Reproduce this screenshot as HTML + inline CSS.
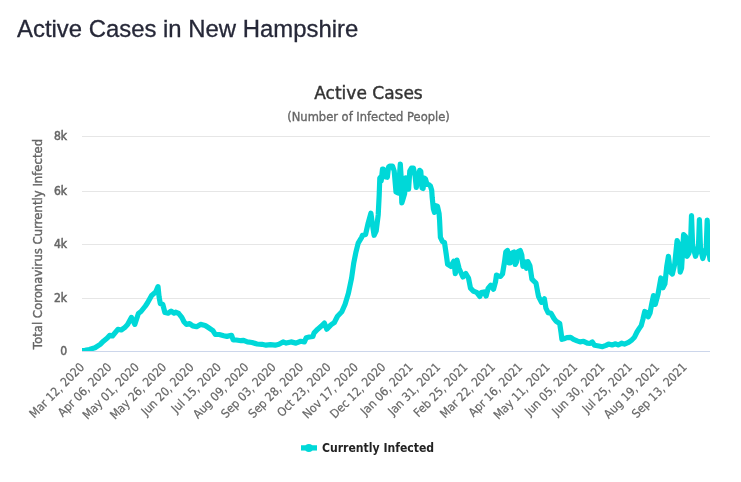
<!DOCTYPE html>
<html><head><meta charset="utf-8"><style>
html,body{margin:0;padding:0;background:#fff;}
body{width:741px;height:482px;overflow:hidden;position:relative;}
svg{position:absolute;left:0;top:0;}
</style></head><body>
<svg width="741" height="482" viewBox="0 0 741 482">
<defs><clipPath id="pc"><rect x="82" y="136" width="628" height="215"/></clipPath></defs>
<text x="17" y="36.8" font-family="'Liberation Sans', Arial, sans-serif" font-size="23.9" fill="#262838" stroke="#262838" stroke-width="0.3">Active Cases in New Hampshire</text>
<text x="368.5" y="99" text-anchor="middle" font-family="'DejaVu Sans', sans-serif" font-size="17" fill="#333333" stroke="#333333" stroke-width="0.4">Active Cases</text>
<text x="368.5" y="120.9" text-anchor="middle" font-family="'DejaVu Sans', sans-serif" font-size="11.5" fill="#666666" stroke="#666666" stroke-width="0.35">(Number of Infected People)</text>
<g stroke="#e6e6e6" stroke-width="1" fill="none">
<path d="M82 136.5 L710 136.5" />
<path d="M82 191.5 L710 191.5" />
<path d="M82 244.5 L710 244.5" />
<path d="M82 298.5 L710 298.5" />
</g>
<g font-family="'DejaVu Sans Condensed', 'DejaVu Sans', sans-serif" font-size="12" fill="#666666" stroke="#666666" stroke-width="0.5">
<text x="67" y="140.2" text-anchor="end">8k</text>
<text x="67" y="195.2" text-anchor="end">6k</text>
<text x="67" y="248.2" text-anchor="end">4k</text>
<text x="67" y="302.2" text-anchor="end">2k</text>
<text x="67" y="355.2" text-anchor="end">0</text>
</g>
<text transform="translate(42 244.0) rotate(-90)" text-anchor="middle" font-family="'DejaVu Sans', sans-serif" font-size="11.7" fill="#666666" stroke="#666666" stroke-width="0.4">Total Coronavirus Currently Infected</text>
<g font-family="'DejaVu Sans Condensed', 'DejaVu Sans', sans-serif" font-size="12" fill="#666666" stroke="#666666" stroke-width="0.2">
<text x="85.00" y="367.90" transform="rotate(-45 85.00 367.90)" text-anchor="end">Mar 12, 2020</text>
<text x="112.39" y="367.90" transform="rotate(-45 112.39 367.90)" text-anchor="end">Apr 06, 2020</text>
<text x="139.78" y="367.90" transform="rotate(-45 139.78 367.90)" text-anchor="end">May 01, 2020</text>
<text x="167.17" y="367.90" transform="rotate(-45 167.17 367.90)" text-anchor="end">May 26, 2020</text>
<text x="194.56" y="367.90" transform="rotate(-45 194.56 367.90)" text-anchor="end">Jun 20, 2020</text>
<text x="221.95" y="367.90" transform="rotate(-45 221.95 367.90)" text-anchor="end">Jul 15, 2020</text>
<text x="249.34" y="367.90" transform="rotate(-45 249.34 367.90)" text-anchor="end">Aug 09, 2020</text>
<text x="276.73" y="367.90" transform="rotate(-45 276.73 367.90)" text-anchor="end">Sep 03, 2020</text>
<text x="304.12" y="367.90" transform="rotate(-45 304.12 367.90)" text-anchor="end">Sep 28, 2020</text>
<text x="331.51" y="367.90" transform="rotate(-45 331.51 367.90)" text-anchor="end">Oct 23, 2020</text>
<text x="358.90" y="367.90" transform="rotate(-45 358.90 367.90)" text-anchor="end">Nov 17, 2020</text>
<text x="386.29" y="367.90" transform="rotate(-45 386.29 367.90)" text-anchor="end">Dec 12, 2020</text>
<text x="413.68" y="367.90" transform="rotate(-45 413.68 367.90)" text-anchor="end">Jan 06, 2021</text>
<text x="441.07" y="367.90" transform="rotate(-45 441.07 367.90)" text-anchor="end">Jan 31, 2021</text>
<text x="468.46" y="367.90" transform="rotate(-45 468.46 367.90)" text-anchor="end">Feb 25, 2021</text>
<text x="495.85" y="367.90" transform="rotate(-45 495.85 367.90)" text-anchor="end">Mar 22, 2021</text>
<text x="523.24" y="367.90" transform="rotate(-45 523.24 367.90)" text-anchor="end">Apr 16, 2021</text>
<text x="550.63" y="367.90" transform="rotate(-45 550.63 367.90)" text-anchor="end">May 11, 2021</text>
<text x="578.02" y="367.90" transform="rotate(-45 578.02 367.90)" text-anchor="end">Jun 05, 2021</text>
<text x="605.41" y="367.90" transform="rotate(-45 605.41 367.90)" text-anchor="end">Jun 30, 2021</text>
<text x="632.80" y="367.90" transform="rotate(-45 632.80 367.90)" text-anchor="end">Jul 25, 2021</text>
<text x="660.19" y="367.90" transform="rotate(-45 660.19 367.90)" text-anchor="end">Aug 19, 2021</text>
<text x="687.58" y="367.90" transform="rotate(-45 687.58 367.90)" text-anchor="end">Sep 13, 2021</text>
</g>
<g clip-path="url(#pc)">
<path d="M80.0 350.6 L85.0 350.3 L89.3 349.5 L95.0 347.7 L100.2 344.4 L103.4 341.2 L107.3 338.0 L109.6 335.4 L112.4 336.0 L117.9 329.3 L121.2 330.0 L124.6 327.7 L127.6 324.5 L131.4 317.4 L134.8 324.4 L138.4 313.5 L141.0 311.5 L145.4 306.0 L147.4 303.0 L151.6 295.4 L155.7 292.0 L158.0 286.6 L159.1 297.0 L160.3 303.5 L162.8 304.5 L164.9 312.5 L168.2 313.2 L171.1 311.1 L174.0 313.2 L175.6 312.2 L178.7 313.5 L181.8 317.4 L184.1 322.0 L186.5 324.4 L189.6 323.6 L192.7 325.9 L196.6 326.7 L200.5 324.4 L205.2 325.5 L208.3 327.5 L212.9 330.6 L215.3 334.5 L219.2 334.5 L223.8 335.7 L227.0 336.4 L231.6 335.3 L233.2 340.0 L236.3 340.0 L241.0 340.7 L243.6 340.4 L247.3 341.9 L252.1 342.5 L257.0 344.0 L261.9 344.3 L266.1 345.2 L270.4 344.7 L275.2 345.2 L278.9 344.3 L283.1 341.9 L286.2 343.1 L291.0 341.9 L295.9 343.1 L300.7 341.3 L304.4 341.9 L306.2 337.7 L309.2 337.0 L312.9 336.4 L314.1 332.8 L317.7 329.2 L321.4 326.1 L324.4 323.1 L326.8 329.2 L330.9 324.9 L334.2 322.7 L337.5 316.2 L341.8 311.8 L345.1 304.2 L348.4 293.3 L351.6 278.0 L353.8 262.7 L356.0 251.8 L358.2 243.1 L361.5 237.6 L362.5 235.3 L365.6 234.4 L368.2 222.9 L370.9 213.2 L372.6 225.6 L374.1 235.3 L376.2 230.9 L378.2 215.0 L379.2 195.0 L379.8 178.0 L380.6 177.0 L381.2 181.0 L382.5 169.0 L383.8 169.5 L385.8 177.0 L387.3 177.3 L388.6 167.0 L389.8 166.0 L392.5 166.0 L394.2 171.0 L396.0 192.0 L398.0 193.0 L399.3 178.0 L400.3 164.0 L401.2 177.8 L401.8 202.9 L402.9 199.4 L404.6 193.7 L405.8 177.8 L406.9 178.9 L408.6 189.2 L409.8 171.0 L411.5 168.1 L413.4 168.0 L415.1 176.0 L416.3 187.4 L418.0 179.4 L419.7 170.3 L420.8 171.4 L422.0 187.9 L423.1 188.5 L424.2 178.2 L425.4 178.8 L427.1 184.5 L428.8 184.5 L430.5 186.2 L431.7 190.2 L432.2 197.6 L433.4 209.0 L434.5 212.4 L435.6 205.6 L437.4 206.2 L439.1 213.6 L439.6 220.8 L440.4 237.4 L442.5 241.5 L444.5 242.6 L446.2 254.0 L447.6 264.4 L450.8 266.4 L453.9 261.2 L455.3 273.7 L457.0 260.2 L459.1 268.5 L462.9 277.0 L465.8 273.6 L468.5 278.0 L470.5 288.2 L473.6 291.3 L476.7 292.4 L479.8 296.5 L481.3 292.6 L484.0 291.9 L486.1 296.0 L488.1 288.5 L490.8 285.2 L493.5 289.2 L495.5 281.8 L496.5 275.0 L498.5 276.0 L500.5 276.5 L502.5 274.0 L504.5 262.0 L505.8 252.0 L507.5 250.5 L508.7 262.8 L510.2 262.8 L511.8 253.0 L514.0 252.0 L515.2 264.5 L516.5 262.0 L518.2 251.5 L520.3 250.5 L521.8 255.0 L522.9 266.3 L524.5 261.6 L526.5 268.3 L527.9 261.6 L529.9 265.6 L531.9 279.1 L533.9 281.1 L536.0 283.1 L538.0 293.9 L538.6 296.6 L541.5 302.4 L544.4 298.8 L545.9 308.2 L548.1 312.6 L551.0 313.3 L553.9 318.4 L556.1 321.3 L559.7 323.5 L561.1 332.9 L561.9 339.4 L564.0 338.7 L566.9 337.6 L570.6 337.3 L573.5 339.4 L577.1 340.9 L580.0 341.9 L583.6 341.3 L587.3 343.1 L590.2 343.4 L592.3 341.9 L594.5 345.3 L598.9 346.0 L602.5 346.7 L606.1 345.3 L608.5 344.1 L612.1 345.0 L615.6 343.8 L618.2 345.0 L621.8 343.2 L624.4 344.1 L628.5 342.3 L632.0 339.8 L634.5 337.2 L637.0 332.0 L638.8 329.2 L641.2 325.6 L642.9 319.4 L644.7 311.5 L646.5 312.4 L648.2 316.8 L650.0 313.2 L651.8 303.5 L653.5 295.6 L655.3 304.4 L657.9 294.7 L660.9 278.0 L662.9 287.8 L664.9 283.9 L666.8 266.1 L668.4 256.3 L670.4 272.1 L672.4 274.0 L674.7 264.2 L677.1 240.5 L678.7 244.4 L680.2 272.1 L681.6 268.1 L683.6 234.6 L685.6 236.6 L687.0 256.3 L688.9 253.3 L690.5 245.0 L691.5 215.5 L692.6 245.0 L695.5 256.3 L698.4 248.0 L699.4 219.5 L700.5 248.0 L702.8 258.5 L706.2 248.0 L707.2 220.0 L708.3 248.0 L710.0 259.5 L712.0 260.0" fill="none" stroke="#00d8d8" stroke-width="5.2" stroke-linejoin="round" stroke-linecap="round"/>
</g>
<path d="M82 351.5 L710 351.5" stroke="#ccd6eb" stroke-width="1"/>
<path d="M301 447.9 L317 447.9" stroke="#00d8d8" stroke-width="5.3"/>
<circle cx="308.9" cy="448" r="4" fill="#00d8d8"/>
<text x="322" y="452.1" font-family="'DejaVu Sans Condensed', 'DejaVu Sans', sans-serif" font-weight="bold" font-size="12.1" fill="#222222">Currently Infected</text>
</svg>
</body></html>
